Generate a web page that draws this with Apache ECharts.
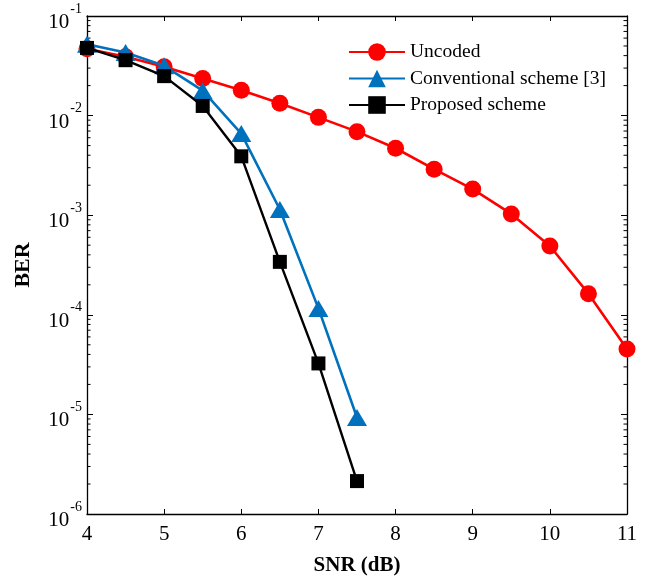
<!DOCTYPE html>
<html>
<head>
<meta charset="utf-8">
<script src="https://cdn.jsdelivr.net/npm/echarts@6/dist/echarts.min.js"></script>
<style>
html,body{margin:0;padding:0;background:#fff;}
#chart{width:660px;height:581px;}
</style>
</head>
<body>
<div id="chart"></div>
<script>
var snr = [4, 4.5, 5, 5.5, 6, 6.5, 7, 7.5, 8, 8.5, 9, 9.5, 10, 10.5, 11];
var uncoded = [0.047, 0.039, 0.031, 0.0236, 0.018, 0.0133, 0.0096, 0.0069, 0.0047, 0.0029, 0.00183, 0.00103, 0.00049, 0.000163, 0.0000453];
var conventional = [0.052, 0.043, 0.0316, 0.0178, 0.0066, 0.00114, 0.000116, 0.0000093];
var proposed = [0.0478, 0.036, 0.0249, 0.0125, 0.0039, 0.00034, 0.0000325, 0.00000214];
var seriesNames = ['Uncoded', 'Conventional scheme [3]', 'Proposed scheme'];
var xTicks = [4, 5, 6, 7, 8, 9, 10, 11];
var yDecades = [-6, -5, -4, -3, -2, -1];

function pairs(ys) {
  return ys.map(function (v, i) { return [snr[i], v]; });
}
// minor tick values (2..9 x 10^k) for log axis
var minorTicks = [];
for (var d = 0; d < yDecades.length - 1; d++) {
  for (var m = 2; m <= 9; m++) minorTicks.push(m * Math.pow(10, yDecades[d]));
}

var FONT = '"Liberation Serif", "Times New Roman", serif';
var chart = echarts.init(document.getElementById('chart'), null, {renderer: 'canvas'});

var axisLineStyle = {color: '#000', width: 1.3};
var option = {
  animation: false,
  backgroundColor: '#fff',
  grid: {left: 87, right: 33, top: 16, bottom: 64, containLabel: false},
  legend: {
    orient: 'vertical',
    left: 348,
    top: 42,
    padding: 0,
    itemWidth: 56,
    itemHeight: 22,
    itemGap: 6.5,
    textStyle: {fontFamily: FONT, fontSize: 19.5, color: '#000'},
    data: seriesNames
  },
  xAxis: [{
    type: 'value', min: 4, max: 11, interval: 1,
    name: 'SNR (dB)', nameLocation: 'middle', nameGap: 41,
    nameTextStyle: {fontFamily: FONT, fontSize: 21, fontWeight: 'bold', color: '#000'},
    axisLine: {show: true, lineStyle: axisLineStyle},
    axisTick: {show: true, inside: true, length: 5, lineStyle: {color: '#000', width: 1}},
    axisLabel: {fontFamily: FONT, fontSize: 21, color: '#000', margin: 10},
    splitLine: {show: false}
  }, {
    type: 'value', min: 4, max: 11, interval: 1, position: 'top',
    axisLine: {show: true, lineStyle: axisLineStyle},
    axisTick: {show: true, inside: true, length: 5, lineStyle: {color: '#000', width: 1}},
    axisLabel: {show: false},
    splitLine: {show: false}
  }],
  yAxis: [{
    type: 'log', logBase: 10, min: 1e-6, max: 1e-1,
    name: 'BER', nameLocation: 'middle', nameGap: 53, nameRotate: 90,
    nameTextStyle: {fontFamily: FONT, fontSize: 22, fontWeight: 'bold', color: '#000'},
    axisLine: {show: true, lineStyle: axisLineStyle},
    axisTick: {show: true, inside: true, length: 6, lineStyle: {color: '#000', width: 1}},
    axisLabel: {
      margin: 5,
      formatter: function (v) {
        var e = Math.round(Math.log10(v));
        return '{b|10}{s|' + e + '}';
      },
      rich: {
        b: {fontFamily: FONT, fontSize: 21, color: '#000', lineHeight: 28, verticalAlign: 'bottom', padding: [0, 0, -3, 0]},
        s: {fontFamily: FONT, fontSize: 14, color: '#000', lineHeight: 14, verticalAlign: 'top', padding: [0, 0, 0, 1]}
      }
    },
    splitLine: {show: false}
  }, {
    type: 'log', logBase: 10, min: 1e-6, max: 1e-1, position: 'right',
    axisLine: {show: true, lineStyle: axisLineStyle},
    axisTick: {show: true, inside: true, length: 6, lineStyle: {color: '#000', width: 1}},
    axisLabel: {show: false},
    splitLine: {show: false}
  }],
  series: [
    {
      name: 'minor', type: 'custom', silent: true, xAxisIndex: 0, yAxisIndex: 0,
      data: minorTicks.map(function (v) { return [4, v]; }),
      renderItem: function (params, api) {
        var p = api.coord([4, api.value(1)]);
        var q = api.coord([11, api.value(1)]);
        return {
          type: 'group',
          children: [
            {type: 'line', shape: {x1: p[0], y1: p[1], x2: p[0] + 3.5, y2: p[1]}, style: {stroke: '#000', lineWidth: 1}},
            {type: 'line', shape: {x1: q[0], y1: q[1], x2: q[0] - 3.5, y2: q[1]}, style: {stroke: '#000', lineWidth: 1}}
          ]
        };
      },
      z: 1
    },
    {
      name: seriesNames[0], type: 'line', data: pairs(uncoded),
      symbol: 'circle', symbolSize: 17,
      lineStyle: {color: '#FF0000', width: 2.6},
      itemStyle: {color: '#FF0000'},
      z: 2
    },
    {
      name: seriesNames[1], type: 'line', data: pairs(conventional),
      symbol: 'triangle', symbolSize: [20, 17],
      lineStyle: {color: '#0072BD', width: 2.6},
      itemStyle: {color: '#0072BD'},
      z: 3
    },
    {
      name: seriesNames[2], type: 'line', data: pairs(proposed),
      symbol: 'rect', symbolSize: 14,
      lineStyle: {color: '#000000', width: 2.4},
      itemStyle: {color: '#000000'},
      z: 4
    }
  ]
};
chart.setOption(option);
</script>
</body>
</html>
